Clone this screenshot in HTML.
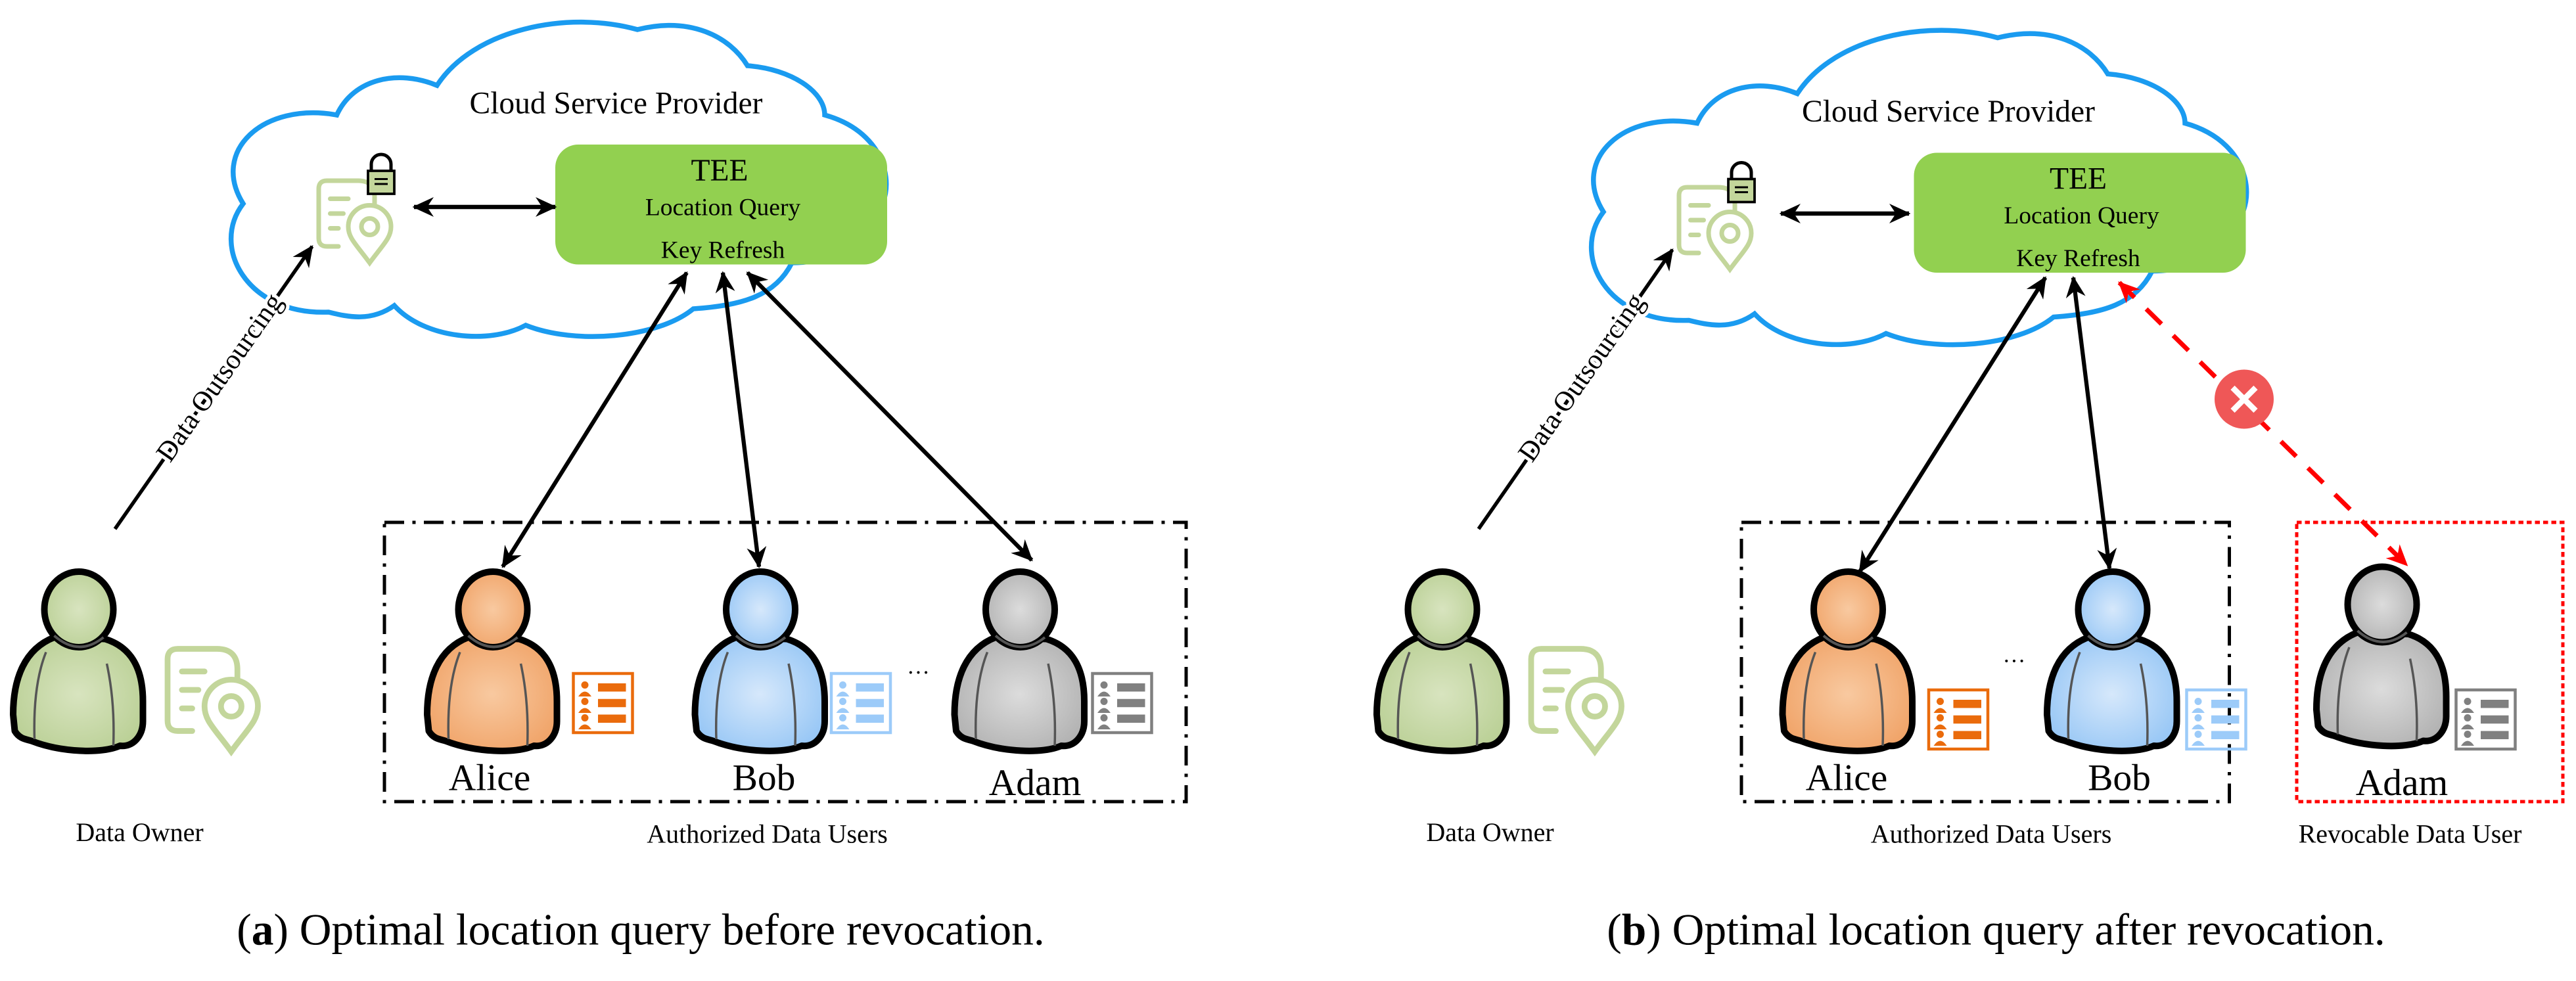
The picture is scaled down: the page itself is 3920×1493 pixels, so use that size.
<!DOCTYPE html>
<html><head><meta charset="utf-8"><style>
html,body{margin:0;padding:0;background:#fff}
svg text{font-family:"Liberation Serif","Times New Roman","DejaVu Serif","Noto Serif CJK SC",serif;fill:#000}
</style></head><body>
<svg width="3920" height="1488" viewBox="0 0 1568 595.2" xmlns="http://www.w3.org/2000/svg">
<defs>
<marker id="ah" markerWidth="13" markerHeight="12" refX="12" refY="6" orient="auto-start-reverse" markerUnits="userSpaceOnUse"><path d="M0,0 L13,6 L0,12 L4,6 Z" fill="#000"/></marker>
<marker id="ahr" markerWidth="13" markerHeight="12" refX="12" refY="6" orient="auto-start-reverse" markerUnits="userSpaceOnUse"><path d="M0,0 L13,6 L0,12 L4,6 Z" fill="#f00"/></marker>
<radialGradient id="gG" cx="50%" cy="50%" r="60%"><stop offset="0" stop-color="#d8e4bf"/><stop offset="1" stop-color="#b9cf94"/></radialGradient>
<radialGradient id="gO" cx="50%" cy="50%" r="60%"><stop offset="0" stop-color="#f8c9a0"/><stop offset="1" stop-color="#f0a266"/></radialGradient>
<radialGradient id="gB" cx="50%" cy="50%" r="60%"><stop offset="0" stop-color="#d6e8fb"/><stop offset="1" stop-color="#94c5f5"/></radialGradient>
<radialGradient id="gY" cx="50%" cy="50%" r="60%"><stop offset="0" stop-color="#dcdcdc"/><stop offset="1" stop-color="#b0b0b0"/></radialGradient>
<path id="cloud" d="M200,190 C150,192 128,150 148,124 C128,92 160,62 205,70 C215,48 242,42 266,52 C288,18 345,6 388,18 C420,10 444,22 455,40 C482,42 502,56 502,70 C545,82 548,124 526,138 C520,152 502,160 482,160 C472,180 452,186 422,188 C400,206 350,210 320,198 C298,210 258,206 240,186 C226,196 212,193 200,190 Z"/>
<g id="doc" fill="none" stroke="#c3d69b" stroke-width="2.8" stroke-linecap="round">
<path d="M12,40 L5,40 Q0,40 0,35 L0,5 Q0,0 5,0 L24,0 Q34,0 34,10 L34,15"/>
<path d="M7,11 L18,11 M7,20 L15,20 M7,29 L12,29"/>
<path d="M31,50 C23,39 18,35 18,28 A13,13 0 0 1 44,28 C44,35 39,39 31,50 Z"/>
<circle cx="31" cy="28" r="5"/>
</g>
<g id="lst">
<rect x="0" y="0" width="36" height="36" fill="none" stroke="currentColor" stroke-width="1.8"/>
<g fill="currentColor">
<circle cx="7" cy="7" r="2.2"/><path d="M3,14 Q7,8 11,14 Z"/>
<circle cx="7" cy="17" r="2.2"/><path d="M3,24 Q7,18 11,24 Z"/>
<circle cx="7" cy="27" r="2.2"/><path d="M3,34 Q7,28 11,34 Z"/>
<rect x="15" y="6" width="17" height="5"/><rect x="15" y="15.5" width="17" height="5"/><rect x="15" y="25" width="17" height="5"/>
</g>
</g>
<g id="pbody">
<path d="M26,41 C8,48 1,66 1,88 L2,98 C5,103 9,103 12,104 C30,111 55,112 66,107 C74,108 80,101 80,92 L80,80 C80,60 73,47 57,42 Z" stroke="#000" stroke-width="4" stroke-linejoin="round"/>
<ellipse cx="41" cy="24" rx="21" ry="23" stroke="#000" stroke-width="4"/>
<path d="M26,40 Q41,53 56,41" fill="none" stroke="#555" stroke-width="1.6"/>
<path d="M21,50 Q13,70 14,103 M58,57 Q63,80 62,107" fill="none" stroke="#555" stroke-width="1.4"/>
</g>
</defs>

<!-- ============ PANEL A ============ -->
<use href="#cloud" fill="none" stroke="#1a9bf0" stroke-width="3"/>
<text x="375" y="69" font-size="19" text-anchor="middle">Cloud Service Provider</text>
<rect x="338" y="88" width="202" height="73" rx="14" fill="#92d050"/>
<text x="438" y="110" font-size="19" text-anchor="middle">TEE</text>
<text x="440" y="131" font-size="15" text-anchor="middle">Location Query</text>
<text x="440" y="157" font-size="15" text-anchor="middle">Key Refresh</text>
<use href="#doc" x="194" y="110"/>
<g transform="translate(222,95)"><path d="M4,9 V5 A6,6 0 0 1 16,5 V9" fill="none" stroke="#000" stroke-width="2"/><rect x="2" y="9" width="16" height="14" fill="#c3d69b" stroke="#000" stroke-width="1.5"/><path d="M6,14 H14 M6,17 H14" stroke="#000" stroke-width="1.2"/></g>
<line x1="252" y1="126" x2="338" y2="126" stroke="#000" stroke-width="2.6" marker-start="url(#ah)" marker-end="url(#ah)"/>
<line x1="70" y1="322" x2="190" y2="150" stroke="#000" stroke-width="2.2" marker-end="url(#ah)"/>
<text transform="translate(134,230) rotate(-55)" font-size="17" text-anchor="middle" dy="5" stroke="#fff" stroke-width="4" paint-order="stroke">Data Outsourcing</text>
<line x1="418" y1="166" x2="306" y2="345" stroke="#000" stroke-width="2.5" marker-start="url(#ah)" marker-end="url(#ah)"/>
<line x1="440" y1="166" x2="462" y2="345" stroke="#000" stroke-width="2.5" marker-start="url(#ah)" marker-end="url(#ah)"/>
<line x1="455" y1="166" x2="628" y2="341" stroke="#000" stroke-width="2.5" marker-start="url(#ah)" marker-end="url(#ah)"/>
<rect x="234" y="318" width="488" height="170" fill="none" stroke="#000" stroke-width="2" stroke-dasharray="12,5,2,5"/>

<use href="#pbody" x="7" y="347" fill="url(#gG)"/>
<use href="#doc" transform="translate(102,395) scale(1.25)"/>
<text x="85" y="512" font-size="16" text-anchor="middle">Data Owner</text>

<use href="#pbody" x="259" y="347" fill="url(#gO)"/>
<use href="#lst" x="349" y="410" style="color:#ea6b0c"/>
<text x="298" y="481" font-size="23" text-anchor="middle">Alice</text>

<use href="#pbody" x="422" y="347" fill="url(#gB)"/>
<use href="#lst" x="506" y="410" style="color:#9ccbf9"/>
<text x="552" y="414" font-size="14">···</text>
<text x="465" y="481" font-size="23" text-anchor="middle">Bob</text>

<use href="#pbody" x="580" y="347" fill="url(#gY)"/>
<use href="#lst" x="665" y="410" style="color:#808080"/>
<text x="630" y="484" font-size="23" text-anchor="middle">Adam</text>
<text x="467" y="513" font-size="16" text-anchor="middle">Authorized Data Users</text>
<text x="390" y="575" font-size="27" text-anchor="middle">(<tspan font-weight="bold">a</tspan>) Optimal location query before revocation.</text>

<!-- ============ PANEL B ============ -->
<use href="#cloud" transform="translate(828,5)" fill="none" stroke="#1a9bf0" stroke-width="3"/>
<text x="1186" y="74" font-size="19" text-anchor="middle">Cloud Service Provider</text>
<rect x="1165" y="93" width="202" height="73" rx="14" fill="#92d050"/>
<text x="1265" y="115" font-size="19" text-anchor="middle">TEE</text>
<text x="1267" y="136" font-size="15" text-anchor="middle">Location Query</text>
<text x="1265" y="162" font-size="15" text-anchor="middle">Key Refresh</text>
<use href="#doc" x="1022" y="114"/>
<g transform="translate(1050,100)"><path d="M4,9 V5 A6,6 0 0 1 16,5 V9" fill="none" stroke="#000" stroke-width="2"/><rect x="2" y="9" width="16" height="14" fill="#c3d69b" stroke="#000" stroke-width="1.5"/><path d="M6,14 H14 M6,17 H14" stroke="#000" stroke-width="1.2"/></g>
<line x1="1084" y1="130" x2="1162" y2="130" stroke="#000" stroke-width="2.6" marker-start="url(#ah)" marker-end="url(#ah)"/>
<line x1="900" y1="322" x2="1018" y2="152" stroke="#000" stroke-width="2.2" marker-end="url(#ah)"/>
<text transform="translate(963,230) rotate(-55)" font-size="17" text-anchor="middle" dy="5" stroke="#fff" stroke-width="4" paint-order="stroke">Data Outsourcing</text>
<line x1="1245" y1="169" x2="1132" y2="348" stroke="#000" stroke-width="2.5" marker-start="url(#ah)" marker-end="url(#ah)"/>
<line x1="1262" y1="169" x2="1284" y2="346" stroke="#000" stroke-width="2.5" marker-start="url(#ah)" marker-end="url(#ah)"/>
<line x1="1290" y1="172" x2="1465" y2="344" stroke="#f00" stroke-width="2.8" stroke-dasharray="13,10" marker-start="url(#ahr)" marker-end="url(#ahr)"/>
<circle cx="1366" cy="243" r="18" fill="#ef5757"/>
<path d="M1359,236 L1373,250 M1373,236 L1359,250" stroke="#fff" stroke-width="3.5"/>
<rect x="1060" y="318" width="297" height="170" fill="none" stroke="#000" stroke-width="2" stroke-dasharray="12,5,2,5"/>
<rect x="1398" y="318" width="162" height="170" fill="none" stroke="#f00" stroke-width="2" stroke-dasharray="3,2"/>

<use href="#pbody" x="837" y="347" fill="url(#gG)"/>
<use href="#doc" transform="translate(932,395) scale(1.25)"/>
<text x="907" y="512" font-size="16" text-anchor="middle">Data Owner</text>

<use href="#pbody" x="1084" y="347" fill="url(#gO)"/>
<use href="#lst" x="1174" y="420" style="color:#ea6b0c"/>
<text x="1219" y="407" font-size="14">···</text>
<text x="1124" y="481" font-size="23" text-anchor="middle">Alice</text>

<use href="#pbody" x="1245" y="347" fill="url(#gB)"/>
<use href="#lst" x="1331" y="420" style="color:#9ccbf9"/>
<text x="1290" y="481" font-size="23" text-anchor="middle">Bob</text>

<use href="#pbody" x="1409" y="344" fill="url(#gY)"/>
<use href="#lst" x="1495" y="420" style="color:#808080"/>
<text x="1462" y="484" font-size="23" text-anchor="middle">Adam</text>
<text x="1212" y="513" font-size="16" text-anchor="middle">Authorized Data Users</text>
<text x="1467" y="513" font-size="16" text-anchor="middle">Revocable Data User</text>
<text x="1215" y="575" font-size="27" text-anchor="middle">(<tspan font-weight="bold">b</tspan>) Optimal location query after revocation.</text>
</svg>
</body></html>
